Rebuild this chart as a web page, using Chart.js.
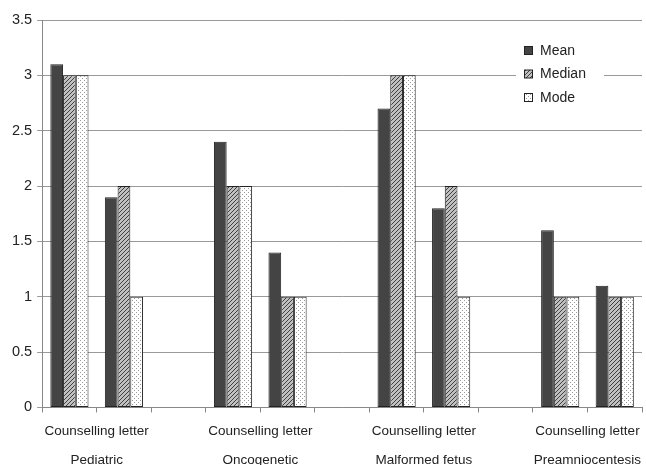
<!DOCTYPE html>
<html>
<head>
<meta charset="utf-8">
<script src="https://cdn.jsdelivr.net/npm/chart.js@4/dist/chart.umd.min.js"></script>
<style>
  html, body { margin: 0; padding: 0; background: #fff; }
  #wrap { width: 646px; height: 465px; }
</style>
</head>
<body>
<div id="wrap"><canvas id="c" width="646" height="465"></canvas></div>
<script>
// Groups and the per-group sub-category label
const groups = ['Pediatric', 'Oncogenetic', 'Malformed fetus', 'Preamniocentesis'];
const subLabel = 'Counselling letter';

// 11 slots on the category axis: two bar clusters per group, an empty spacer between groups
const categories = ['P1', 'P2', '', 'O1', 'O2', '', 'M1', 'M2', '', 'A1', 'A2'];

const meanValues   = [3.1, 1.9, null, 2.4, 1.4, null, 2.7, 1.8, null, 1.6, 1.1];
const medianValues = [3.0, 2.0, null, 2.0, 1.0, null, 3.0, 2.0, null, 1.0, 1.0];
const modeValues   = [3.0, 1.0, null, 2.0, 1.0, null, 3.0, 1.0, null, 1.0, 1.0];

const yTicks = [0, 0.5, 1, 1.5, 2, 2.5, 3, 3.5];

// Fill patterns
function hatchPattern() {
  const p = document.createElement('canvas');
  p.width = 4; p.height = 4;
  const g = p.getContext('2d');
  g.fillStyle = '#c0c0c0';
  g.fillRect(0, 0, 4, 4);
  g.strokeStyle = '#404040';
  g.lineWidth = 1;
  g.beginPath();
  g.moveTo(0, 4); g.lineTo(4, 0);
  g.moveTo(-1, 1); g.lineTo(1, -1);
  g.moveTo(3, 5); g.lineTo(5, 3);
  g.stroke();
  return g.createPattern(p, 'repeat');
}
function dotPattern() {
  const p = document.createElement('canvas');
  p.width = 4; p.height = 4;
  const g = p.getContext('2d');
  g.fillStyle = '#ffffff';
  g.fillRect(0, 0, 4, 4);
  g.fillStyle = '#9a9a9a';
  g.fillRect(0, 0, 1, 1);
  g.fillRect(2, 2, 1, 1);
  return g.createPattern(p, 'repeat');
}
const ctx0 = document.getElementById('c').getContext('2d');
const meanFill = '#444444';
const medianFill = hatchPattern();
const modeFill = dotPattern();

const FONT = 'Liberation Sans, Arial, sans-serif';

// Legend drawn inside the plot, top right, on a white box
const insideLegend = {
  id: 'insideLegend',
  afterDraw(chart) {
    const ctx = chart.ctx;
    const items = [
      { text: 'Mean', fill: meanFill },
      { text: 'Median', fill: medianFill },
      { text: 'Mode', fill: modeFill }
    ];
    const x0 = 516, y0 = 38;
    ctx.save();
    ctx.fillStyle = '#fff';
    ctx.fillRect(x0, y0, 88, 72);
    ctx.font = '14px ' + FONT;
    ctx.textBaseline = 'middle';
    items.forEach((it, i) => {
      const cy = 51 + i * 23.5;
      ctx.fillStyle = it.fill;
      ctx.fillRect(524.5, cy - 4.5, 8, 8);
      ctx.strokeStyle = '#222';
      ctx.lineWidth = 1;
      ctx.strokeRect(524.5, cy - 4.5, 8, 8);
      ctx.fillStyle = '#222';
      ctx.fillText(it.text, 540, cy);
    });
    ctx.restore();
  }
};

const barStyle = { borderColor: '#222', borderWidth: 1, borderSkipped: false };

new Chart(ctx0, {
  type: 'bar',
  data: {
    labels: categories,
    datasets: [
      Object.assign({ label: 'Mean', data: meanValues, backgroundColor: meanFill }, barStyle),
      Object.assign({ label: 'Median', data: medianValues, backgroundColor: medianFill }, barStyle),
      Object.assign({ label: 'Mode', data: modeValues, backgroundColor: modeFill }, barStyle)
    ]
  },
  options: {
    responsive: false,
    animation: false,
    devicePixelRatio: 1,
    layout: { padding: { top: 20, right: 4, left: 7, bottom: -6 } },
    datasets: { bar: { categoryPercentage: 0.7, barPercentage: 1.0 } },
    plugins: { legend: { display: false }, tooltip: { enabled: false } },
    scales: {
      x: {
        type: 'category',
        position: 'bottom',
        offset: true,
        ticks: { display: false },
        grid: { display: true, drawOnChartArea: false, drawTicks: true, tickLength: 5, offset: true, color: '#888' },
        border: { color: '#888' }
      },
      xLabels: {
        type: 'linear',
        position: 'bottom',
        offset: false,
        min: 0,
        max: categories.length,
        afterBuildTicks(scale) {
          scale.ticks = groups.map((g, i) => ({ value: 1 + i * 3 }));
        },
        ticks: {
          autoSkip: false,
          maxRotation: 0,
          padding: 4,
          color: '#222',
          font: { family: FONT, size: 13.5, lineHeight: 1.05 },
          callback(value) {
            const i = Math.round((value - 1) / 3);
            return [subLabel, '', groups[i]];
          }
        },
        grid: { display: false, offset: false },
        border: { display: false }
      },
      y: {
        min: 0,
        max: 3.5,
        afterBuildTicks(scale) {
          scale.ticks = yTicks.map(v => ({ value: v }));
        },
        ticks: {
          padding: 5,
          color: '#222',
          font: { family: FONT, size: 14.5 },
          callback: v => String(v)
        },
        grid: { color: '#999', drawTicks: true, tickLength: 5 },
        border: { color: '#888' }
      }
    }
  },
  plugins: [insideLegend]
});
</script>
</body>
</html>
